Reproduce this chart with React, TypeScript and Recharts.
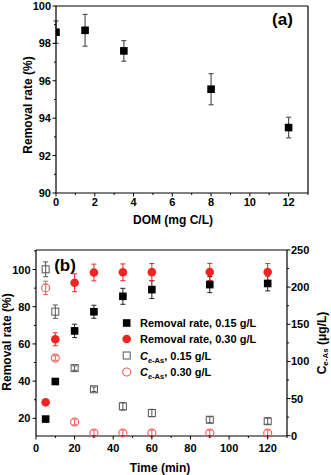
import {
  Customized,
  ErrorBar,
  Label,
  ReferenceLine,
  Scatter,
  ScatterChart,
  XAxis,
  YAxis,
} from 'recharts'

const FONT = 'Arial, "Liberation Sans", Helvetica, sans-serif'
const RED = '#f42323'
const PINK = '#f55a5a'
const GRAY = '#555'
const AXIS = { stroke: '#000', strokeWidth: 1.2 }

// panel (a): removal rate vs DOM
const DOM = [0, 1.5, 3.5, 8, 12]
const DOM_RATE = [98.6, 98.7, 97.6, 95.55, 93.5]
const DOM_ERR = [0.6, 0.85, 0.55, 0.83, 0.55]
const DOM_TICKS = [0, 1, 2, 3, 4, 5, 6, 7, 8, 9, 10, 11, 12, 13]
const RATE_A_TICKS = [90, 91, 92, 93, 94, 95, 96, 97, 98, 99, 100]

// panel (b): kinetics
const TIME = [5, 10, 20, 30, 45, 60, 90, 120]
const RATE_015 = [19.6, 39.8, 67.0, 77.3, 85.6, 89.2, 91.9, 92.5]
const RATE_015_ERR = [1, 1.5, 3.6, 3.5, 4.3, 4.8, 4.3, 4]
const RATE_030 = [28.6, 62.5, 92.9, 98.4, 98.5, 98.6, 98.7, 98.7]
const RATE_030_ERR = [1, 3.5, 4.8, 4.5, 4.5, 4.6, 4.6, 4.5]
const CE_015 = [224, 167, 91, 62.5, 39.5, 30.5, 21.5, 19.5]
const CE_015_ERR = [10, 9, 3, 3, 5, 5, 4, 4]
const CE_030 = [199, 104.5, 18.5, 3.6, 3.6, 3.6, 3.6, 3.6]
const CE_030_ERR = [9, 3, 4, 4, 4, 4, 4, 4]
const TIME_TICKS = [0, 10, 20, 30, 40, 50, 60, 70, 80, 90, 100, 110, 120, 130]
const RATE_B_TICKS = [20, 30, 40, 50, 60, 70, 80, 90, 100, 110]
const CE_TICKS = [0, 25, 50, 75, 100, 125, 150, 175, 200, 225, 250]

const toPoints = (xs: number[], ys: number[], es: number[]) =>
  xs.map((x, i) => ({ x, y: ys[i], e: es[i] }))

const textStyle = { fontFamily: FONT, fontWeight: 700, fill: '#000' }

// Major ticks get a label and a longer mark; minor ones just a short mark.
function axisTick(side: 'bottom' | 'left' | 'right', isMajor: (v: number) => boolean, gap: number) {
  return (props: any) => {
    const { x, y, payload } = props
    const v = payload.value
    const major = isMajor(v)
    const len = major ? 3.5 : 2
    let line
    let label
    if (side === 'bottom') {
      line = <line x1={x} x2={x} y1={y} y2={y + len} />
      label = <text x={x} y={y + gap} textAnchor="middle">{v}</text>
    } else if (side === 'left') {
      line = <line x1={x - len} x2={x} y1={y} y2={y} />
      label = <text x={x - gap} y={y + 4} textAnchor="end">{v}</text>
    } else {
      line = <line x1={x} x2={x + len} y1={y} y2={y} />
      label = <text x={x + gap} y={y + 4} textAnchor="start">{v}</text>
    }
    return (
      <g stroke="#000" strokeWidth={1}>
        {line}
        {major && (
          <g stroke="none" fontSize={11} {...textStyle}>
            {label}
          </g>
        )}
      </g>
    )
  }
}

const filledSquare = (color: string) => (p: any) =>
  <rect x={p.cx - 3.8} y={p.cy - 3.8} width={7.6} height={7.6} fill={color} />
const openSquare = (color: string) => (p: any) =>
  <rect x={p.cx - 3.5} y={p.cy - 3.5} width={7} height={7} fill="none" stroke={color} strokeWidth={1} />
const filledCircle = (color: string) => (p: any) =>
  <circle cx={p.cx} cy={p.cy} r={4.3} fill={color} />
const openCircle = (color: string) => (p: any) =>
  <circle cx={p.cx} cy={p.cy} r={4} fill="none" stroke={color} strokeWidth={1.1} />

function PanelA() {
  return (
    <text x={282.5} y={24.7} textAnchor="middle" fontSize={17} {...textStyle}>
      (a)
    </text>
  )
}

function LegendB() {
  const rows = [88, 104, 120.5, 137]
  const mx = 126.7
  const tx = 140
  return (
    <g fontSize={11} {...textStyle}>
      <rect x={mx - 3.8} y={rows[0] - 3.8} width={7.6} height={7.6} fill="#000" />
      <text x={tx} y={rows[0] + 4}>Removal rate, 0.15 g/L</text>
      <circle cx={mx} cy={rows[1]} r={4.3} fill={RED} />
      <text x={tx} y={rows[1] + 4}>Removal rate, 0.30 g/L</text>
      <rect x={mx - 3.5} y={rows[2] - 3.5} width={7} height={7} fill="none" stroke={GRAY} />
      <text x={tx} y={rows[2] + 4}>
        <tspan fontStyle="italic">C</tspan>
        <tspan dy={3} fontSize={7.5}>e-As</tspan>
        <tspan dy={-3}>, 0.15 g/L</tspan>
      </text>
      <circle cx={mx} cy={rows[3]} r={4} fill="none" stroke={PINK} strokeWidth={1.1} />
      <text x={tx} y={rows[3] + 4}>
        <tspan fontStyle="italic">C</tspan>
        <tspan dy={3} fontSize={7.5}>e-As</tspan>
        <tspan dy={-3}>, 0.30 g/L</tspan>
      </text>
      <text x={65} y={36} textAnchor="middle" fontSize={17}>
        (b)
      </text>
    </g>
  )
}

export default function App() {
  const domData = toPoints(DOM, DOM_RATE, DOM_ERR)
  const r015 = toPoints(TIME, RATE_015, RATE_015_ERR)
  const r030 = toPoints(TIME, RATE_030, RATE_030_ERR)
  const c015 = toPoints(TIME, CE_015, CE_015_ERR)
  const c030 = toPoints(TIME, CE_030, CE_030_ERR)

  return (
    <div style={{ position: 'fixed', left: 0, top: 0, width: 331, height: 475, background: '#fff' }}>
      <ScatterChart width={331} height={235} margin={{ top: 6, right: 23, bottom: 0, left: 0 }}>
        <XAxis
          type="number"
          dataKey="x"
          domain={[0, 13]}
          ticks={DOM_TICKS}
          interval={0}
          allowDataOverflow
          height={42}
          tickSize={0}
          tickMargin={0}
          tickLine={false}
          axisLine={AXIS}
          tick={axisTick('bottom', (v) => v % 2 === 0, 13.4)}
        >
          <Label
            content={() => (
              <text x={173} y={223.5} textAnchor="middle" fontSize={12} {...textStyle}>
                DOM (mg C/L)
              </text>
            )}
          />
        </XAxis>
        <YAxis
          type="number"
          dataKey="y"
          domain={[90, 100]}
          ticks={RATE_A_TICKS}
          interval={0}
          allowDataOverflow
          width={56}
          tickSize={0}
          tickMargin={0}
          tickLine={false}
          axisLine={AXIS}
          tick={axisTick('left', (v) => v % 2 === 0, 5)}
        >
          <Label
            content={() => (
              <text
                x={28.3}
                y={105}
                transform="rotate(-90 28.3 105)"
                textAnchor="middle"
                dominantBaseline="central"
                fontSize={12}
                {...textStyle}
              >
                Removal rate (%)
              </text>
            )}
          />
        </YAxis>
        <ReferenceLine y={100} stroke="#000" strokeWidth={1.2} />
        <ReferenceLine x={13} stroke="#000" strokeWidth={1.2} />
        <Scatter data={domData} shape={filledSquare('#000')} isAnimationActive={false}>
          <ErrorBar dataKey="e" direction="y" width={2.5} stroke={GRAY} strokeWidth={1.2} />
        </Scatter>
        <Customized component={PanelA} />
      </ScatterChart>

      <ScatterChart width={331} height={240} margin={{ top: 15, right: 0, bottom: 0, left: 0 }}>
        <XAxis
          type="number"
          dataKey="x"
          domain={[0, 130]}
          ticks={TIME_TICKS}
          interval={0}
          height={39}
          tickSize={0}
          tickMargin={0}
          tickLine={false}
          axisLine={AXIS}
          tick={axisTick('bottom', (v) => v % 20 === 0, 15.7)}
        >
          <Label
            content={() => (
              <text x={160} y={236.5} textAnchor="middle" fontSize={12} {...textStyle}>
                Time (min)
              </text>
            )}
          />
        </XAxis>
        <YAxis
          yAxisId="left"
          type="number"
          dataKey="y"
          domain={[10.5, 110.5]}
          ticks={RATE_B_TICKS}
          interval={0}
          width={36}
          tickSize={0}
          tickMargin={0}
          tickLine={false}
          axisLine={AXIS}
          tick={axisTick('left', (v) => v % 20 === 0, 5.5)}
        >
          <Label
            content={() => (
              <text
                x={6.5}
                y={107}
                transform="rotate(-90 6.5 107)"
                textAnchor="middle"
                dominantBaseline="central"
                fontSize={12}
                {...textStyle}
              >
                Removal rate (%)
              </text>
            )}
          />
        </YAxis>
        <YAxis
          yAxisId="right"
          orientation="right"
          type="number"
          dataKey="y"
          domain={[0, 250]}
          ticks={CE_TICKS}
          interval={0}
          width={44}
          tickSize={0}
          tickMargin={0}
          tickLine={false}
          axisLine={AXIS}
          tick={axisTick('right', (v) => v % 50 === 0, 4)}
        >
          <Label
            content={() => (
              <text
                x={321.7}
                y={108}
                transform="rotate(-90 321.7 108)"
                textAnchor="middle"
                dominantBaseline="central"
                fontSize={12}
                {...textStyle}
              >
                C<tspan dy={3} fontSize={8}>e-As</tspan>
                <tspan dy={-3}> (μg/L)</tspan>
              </text>
            )}
          />
        </YAxis>
        <ReferenceLine yAxisId="left" y={110.5} stroke="#000" strokeWidth={1.2} />
        <Scatter yAxisId="right" data={c015} shape={openSquare(GRAY)} isAnimationActive={false}>
          <ErrorBar dataKey="e" direction="y" width={2.5} stroke={GRAY} strokeWidth={1} />
        </Scatter>
        <Scatter yAxisId="right" data={c030} shape={openCircle(PINK)} isAnimationActive={false}>
          <ErrorBar dataKey="e" direction="y" width={2.5} stroke={PINK} strokeWidth={1} />
        </Scatter>
        <Scatter yAxisId="left" data={r015} shape={filledSquare('#000')} isAnimationActive={false}>
          <ErrorBar dataKey="e" direction="y" width={2.5} stroke="#222" strokeWidth={1} />
        </Scatter>
        <Scatter yAxisId="left" data={r030} shape={filledCircle(RED)} isAnimationActive={false}>
          <ErrorBar dataKey="e" direction="y" width={2.5} stroke={RED} strokeWidth={1} />
        </Scatter>
        <Customized component={LegendB} />
      </ScatterChart>
    </div>
  )
}
